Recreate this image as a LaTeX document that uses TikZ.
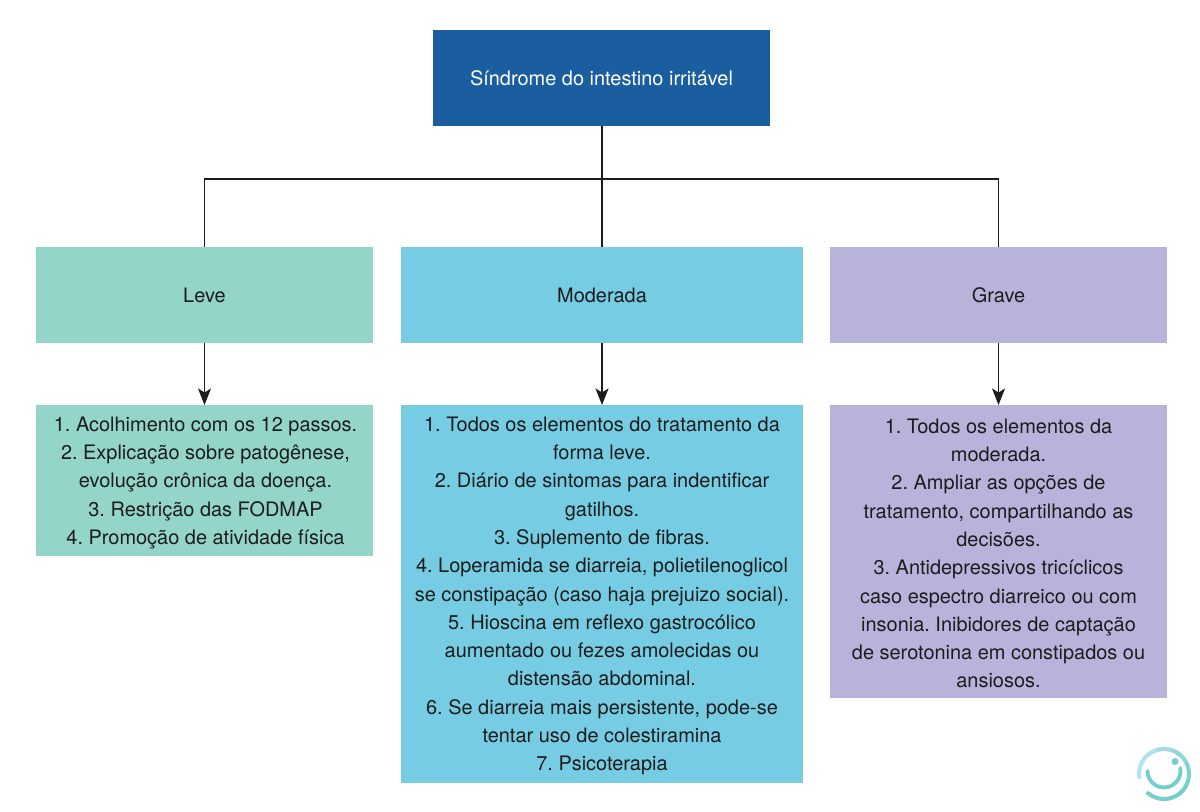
\documentclass[tikz,border=0pt]{standalone}
\usepackage{fontspec}
\setmainfont{TeX Gyre Heros}
\usepackage{xcolor}
\usetikzlibrary{arrows.meta,positioning}
\definecolor{sibTitle}{HTML}{1A5E9F}
\definecolor{sibLeve}{HTML}{93D5C8}
\definecolor{sibModerada}{HTML}{76CDE3}
\definecolor{sibGrave}{HTML}{B8B3DB}
\definecolor{ink}{HTML}{1C1C1C}
\definecolor{logoLight}{HTML}{B4E3F1}
\definecolor{logoTeal}{HTML}{74CFCB}

\begin{document}
\frenchspacing
\begin{tikzpicture}[>={Stealth[length=0.33cm,width=0.26cm,inset=0.08cm]},
  txt/.style={font=\fontsize{11.35}{16.1}\selectfont,text=ink,align=center},
  head/.style={txt,minimum height=1.92cm,inner sep=0pt},
  list/.style={txt,anchor=north,inner sep=0pt},
  link/.style={draw=ink,line width=0.7pt},
  logo/.style={line width=2.3pt,line cap=round}]
\useasboundingbox (0,0) rectangle (24,16.22);
% title
\node[head,fill=sibTitle,text=white,minimum width=6.74cm] (title) at (12.03,14.66) {Síndrome do intestino irritável};
% severity levels
\node[head,fill=sibLeve,minimum width=6.74cm] (leve) at (4.09,10.32) {Leve};
\node[head,fill=sibModerada,minimum width=8.04cm] (moderada) at (12.04,10.32) {Moderada};
\node[head,fill=sibGrave,minimum width=6.74cm] (grave) at (19.97,10.32) {Grave};
% treatment lists
\node[list,fill=sibLeve,minimum width=6.74cm,minimum height=3.02cm] (listaLeve) at (4.09,8.12) {};
\node[txt] (textoLeve) at (4.11,6.56) {1. Acolhimento com os 12 passos.\\
  2. Explicação sobre patogênese,\\
  evolução crônica da doença.\\
  3. Restrição das FODMAP\\
  4. Promoção de atividade física};
\node[list,fill=sibModerada,minimum width=8.04cm,minimum height=7.56cm] (listaModerada) at (12.04,8.12) {};
\node[txt] (textoModerada) at (12.04,4.3) {1. Todos os elementos do tratamento da\\
  forma leve.\\
  2. Diário de sintomas para indentificar\\
  gatilhos.\\
  3. Suplemento de fibras.\\
  4. Loperamida se diarreia, polietilenoglicol\\
  se constipação (caso haja prejuizo social).\\
  5. Hioscina em reflexo gastrocólico\\
  aumentado ou fezes amolecidas ou\\
  distensão abdominal.\\
  6. Se diarreia mais persistente, pode-se\\
  tentar uso de colestiramina\\
  7. Psicoterapia};
\node[list,fill=sibGrave,minimum width=6.74cm,minimum height=5.86cm] (listaGrave) at (19.97,8.12) {};
\node[txt] (textoGrave) at (19.97,5.15) {1. Todos os elementos da\\
  moderada.\\
  2. Ampliar as opções de\\
  tratamento, compartilhando as\\
  decisões.\\
  3. Antidepressivos tricíclicos\\
  caso espectro diarreico ou com\\
  insonia. Inibidores de captação\\
  de serotonina em constipados ou\\
  ansiosos.};
% connectors
\coordinate (bus) at (12.04,12.64);
\draw[link] (title.south -| bus) -- (moderada.north);
\draw[link] (bus) -| (leve.north);
\draw[link] (bus) -| (grave.north);
\draw[link,->] (leve) -- (listaLeve);
\draw[link,->] (moderada) -- (listaModerada);
\draw[link,->] (grave) -- (listaGrave);
% logo
\foreach \a/\c in {-90/100,-50/100,-10/100,30/85,70/60,110/35,150/10,188/0}
  \draw[logo,draw=logoTeal!\c!logoLight] (23.28,0.74) ++(\a:0.5) arc[start angle=\a,end angle=\a-40,radius=0.5];
\draw[logo,line width=2.2pt,draw=logoTeal] (22.95,0.8) arc[start angle=180,end angle=370,radius=0.33];
\node[circle,fill=logoTeal,inner sep=0pt,minimum size=0.14cm] (logoDot) at (23.5,0.99) {};
\end{tikzpicture}
\end{document}
